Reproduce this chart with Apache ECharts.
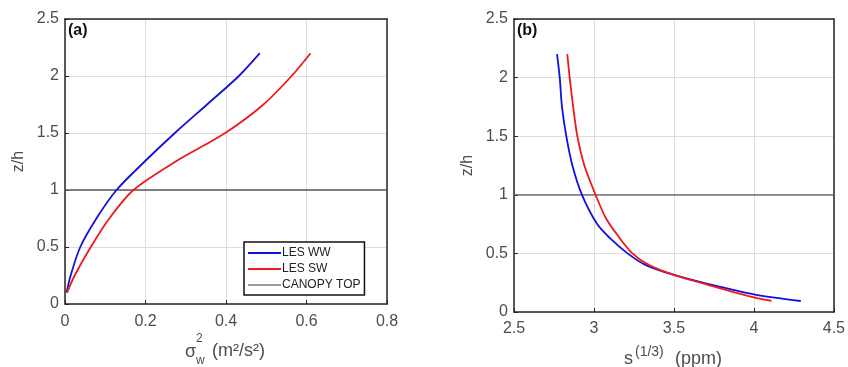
<!DOCTYPE html>
<html>
<head>
<meta charset="utf-8">
<script src="https://cdn.jsdelivr.net/npm/echarts@6/dist/echarts.min.js"></script>
<style>
html,body{margin:0;padding:0;background:#fff;}
#chart{width:848px;height:367px;}
</style>
</head>
<body>
<div id="chart"></div>
<script>
// Panel (a): sigma_w^2 (m²/s²) vs z/h
var aWW = [[0.004,0.1],[0.014,0.25],[0.038,0.5],[0.078,0.75],[0.128,1.0],[0.198,1.25],[0.273,1.5],[0.353,1.75],[0.432,2.0],[0.484,2.2]];
var aSW = [[0.005,0.1],[0.024,0.25],[0.064,0.5],[0.110,0.75],[0.170,1.0],[0.275,1.25],[0.398,1.5],[0.493,1.75],[0.563,2.0],[0.610,2.2]];
// Panel (b): s^(1/3) (ppm) vs z/h
var bWW = [[2.769,2.2],[2.786,2.0],[2.800,1.75],[2.827,1.5],[2.865,1.25],[2.925,1.0],[3.020,0.75],[3.100,0.63],[3.210,0.5],[3.324,0.40],[3.500,0.316],[3.717,0.238],[4.000,0.151],[4.293,0.094]];
var bSW = [[2.833,2.2],[2.848,2.0],[2.870,1.75],[2.896,1.5],[2.940,1.25],[3.010,1.0],[3.075,0.8],[3.150,0.65],[3.240,0.5],[3.345,0.40],[3.500,0.316],[3.717,0.23],[4.000,0.125],[4.110,0.096]];
var canopyZ = 1;
var aTicks = [0, 0.8, 0.2];
var bTicks = [2.5, 4.5, 0.5];
var zTicks = [0, 2.5, 0.5];

var font = 'Liberation Sans, Arial, Helvetica, sans-serif';
var axisCol = '#262626';
var labCol = '#4d4d4d';

function xAx(idx, t, margin){
  return {gridIndex: idx, type:'value', min:t[0], max:t[1], interval:t[2],
    axisLine:{show:true, onZero:false, lineStyle:{color:axisCol, width:1.5}},
    axisTick:{show:true, inside:true, length:4, lineStyle:{color:axisCol}},
    splitLine:{show:true, lineStyle:{color:'#dedede', width:1}},
    axisLabel:{color:labCol, fontFamily:font, fontSize:16, margin:margin}};
}
function xTop(idx, t){
  return {gridIndex: idx, type:'value', position:'top', min:t[0], max:t[1], interval:t[2],
    axisLine:{show:true, onZero:false, lineStyle:{color:axisCol, width:1.5}},
    axisTick:{show:false}, splitLine:{show:false}, axisLabel:{show:false}};
}
function yAx(idx, name){
  return {gridIndex: idx, type:'value', min:zTicks[0], max:zTicks[1], interval:zTicks[2],
    name:name, nameLocation:'middle', nameGap:38, nameRotate:90,
    nameTextStyle:{color:labCol, fontFamily:font, fontSize:16},
    axisLine:{show:true, onZero:false, lineStyle:{color:axisCol, width:1.5}},
    axisTick:{show:true, inside:true, length:4, lineStyle:{color:axisCol}},
    splitLine:{show:true, lineStyle:{color:'#dedede', width:1}},
    axisLabel:{color:labCol, fontFamily:font, fontSize:16, margin:6}};
}
function yRight(idx){
  return {gridIndex: idx, type:'value', position:'right', min:zTicks[0], max:zTicks[1], interval:zTicks[2],
    axisLine:{show:true, onZero:false, lineStyle:{color:axisCol, width:1.5}},
    axisTick:{show:false}, splitLine:{show:false}, axisLabel:{show:false}};
}
function lineS(name, data, xi, color){
  return {name:name, type:'line', xAxisIndex:xi, yAxisIndex:xi, data:data,
    smooth:0.3, symbol:'none', lineStyle:{color:color, width:1.8}, itemStyle:{color:color}, z:3};
}
function canopy(xi, t){
  return {name:'CANOPY TOP', type:'line', xAxisIndex:xi, yAxisIndex:xi,
    data:[[t[0],canopyZ],[t[1],canopyZ]], symbol:'none',
    lineStyle:{color:'#5a5a5a', width:1.3}, itemStyle:{color:'#9a9a9a'}, z:2};
}

var chart = echarts.init(document.getElementById('chart'), null, {renderer:'canvas'});
chart.setOption({
  animation:false,
  backgroundColor:'#fff',
  grid:[
    {left:65, top:19, width:322, height:285},
    {left:514, top:19, width:322, height:293}
  ],
  xAxis:[xAx(0, aTicks, 10), xAx(1, bTicks, 9), xTop(0, aTicks), xTop(1, bTicks)],
  yAxis:[yAx(0,'z/h'), yAx(1,'z/h'), yRight(0), yRight(1)],
  legend:{
    left:244, top:242, orient:'vertical', itemGap:4, itemWidth:33, itemHeight:2,
    padding:[5,4,4,4], borderColor:'#111', borderWidth:1.5, backgroundColor:'#fff',
    icon:'rect',
    textStyle:{fontFamily:font, fontSize:12, color:'#222', padding:[0,0,0,-4]},
    data:[{name:'LES WW', itemStyle:{color:'#1010e0'}},{name:'LES SW', itemStyle:{color:'#f01818'}},{name:'CANOPY TOP', itemStyle:{color:'#9a9a9a'}}]
  },
  series:[
    lineS('LES WW', aWW, 0, '#1010e0'),
    lineS('LES SW', aSW, 0, '#f01818'),
    canopy(0, aTicks),
    lineS('LES WW', bWW, 1, '#1010e0'),
    lineS('LES SW', bSW, 1, '#f01818'),
    canopy(1, bTicks)
  ],
  graphic:[
    {type:'text', left:68, top:23, style:{text:'(a)', font:'bold 16px '+font, fill:'#111'}},
    {type:'text', left:517, top:23, style:{text:'(b)', font:'bold 16px '+font, fill:'#111'}},
    {type:'text', x:185, y:343, style:{text:'σ', font:'18px '+font, fill:labCol}},
    {type:'text', x:196, y:333, style:{text:'2', font:'12px '+font, fill:labCol}},
    {type:'text', x:196, y:355, style:{text:'w', font:'12px '+font, fill:labCol}},
    {type:'text', x:212, y:342, style:{text:'(m²/s²)', font:'18px '+font, fill:labCol}},
    {type:'text', x:624, y:350, style:{text:'s', font:'18px '+font, fill:labCol}},
    {type:'text', x:635, y:345, style:{text:'(1/3)', font:'14px '+font, fill:labCol}},
    {type:'text', x:675, y:350, style:{text:'(ppm)', font:'18px '+font, fill:labCol}}
  ]
});
</script>
</body>
</html>
